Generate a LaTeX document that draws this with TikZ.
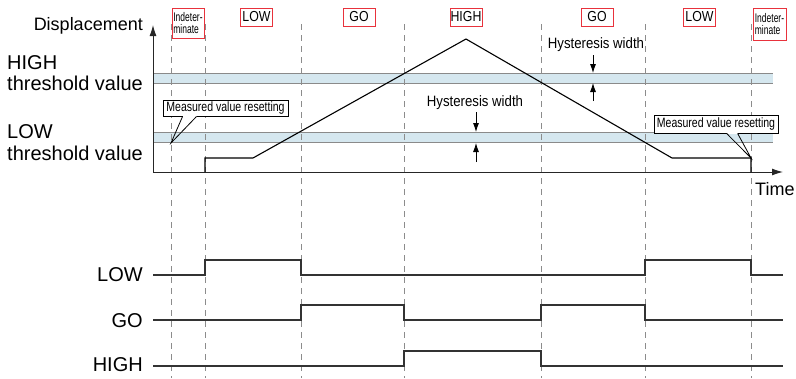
\documentclass[tikz,border=0pt]{standalone}
\usepackage{fontspec}
\setmainfont{Liberation Sans}
\newfontfamily\boxfont[FakeStretch=0.85]{Liberation Sans}
\newfontfamily\callfont[FakeStretch=0.78]{Liberation Sans}
\newfontfamily\indfont[FakeStretch=0.68]{Liberation Sans}
\newfontfamily\hysfont[FakeStretch=0.88]{Liberation Sans}
\usetikzlibrary{arrows.meta,calc}
\definecolor{bandc}{HTML}{D5E7EF}
\definecolor{bandedge}{HTML}{8A8A8A}
\definecolor{dashc}{HTML}{8C8C8C}
\definecolor{redbox}{HTML}{E8323C}
\definecolor{sigc}{HTML}{333333}
\tikzset{
  statebox/.style={draw=redbox, line width=1pt, fill=white, inner sep=0pt,
    minimum width=32pt, minimum height=18pt, font=\boxfont\fontsize{14.5}{14.5}\selectfont},
  indbox/.style={statebox, minimum height=30pt, align=left,
    font=\indfont\fontsize{12.5}{12.5}\selectfont},
  callout/.style={draw=black, line width=0.8pt, fill=white, inner sep=0pt,
    font=\callfont\fontsize{13.5}{14}\selectfont},
  guide/.style={draw=dashc, dash pattern=on 6pt off 5pt, line width=0.8pt},
  bandline/.style={draw=bandedge, line width=1pt},
  curve/.style={draw=black, line width=1.1pt},
  signal/.style={draw=sigc, line width=1.5pt},
  axis/.style={draw=black!85, line width=1pt},
  hysarrow/.style={-{Latex[length=9pt,width=6pt]}, line width=0.8pt},
  biglabel/.style={font=\fontsize{20}{22}\selectfont, inner sep=0pt},
  midlabel/.style={font=\fontsize{18}{20}\selectfont, inner sep=0pt},
  hyslabel/.style={font=\hysfont\fontsize{15}{16}\selectfont, inner sep=0pt}
}
\begin{document}
\begin{tikzpicture}[x=1pt,y=-1pt]
\useasboundingbox (0,0) rectangle (796,378);

% threshold bands
\fill[bandc] (153,73) rectangle (773,83);
\draw[bandline] (153,73) -- (773,73) (153,83) -- (773,83);
\fill[bandc] (153,132) rectangle (773,142);
\draw[bandline] (153,132) -- (773,132) (153,142) -- (773,142);

% guide lines
\foreach \gx in {171,205,301,404,541,645,751}
  \draw[guide] (\gx,24) -- (\gx,378);

% axes
\coordinate (org) at (153,172);
\coordinate (ytop) at (153,25);
\coordinate (xend) at (783,172);
\draw[axis,-{Latex[length=11pt,width=7pt]}] (org) -- (ytop);
\draw[axis,-{Latex[length=11pt,width=7pt]}] (org) -- (xend);

% displacement curve
\draw[curve] (205,172) -- (205,158) -- (253,158) -- (466,39) -- (672,158) -- (751,158) -- (751,172);

% state boxes
\node[indbox] (i1) at (188,23) {Indeter-\\minate};
\node[statebox] (s1) at (256.5,17) {LOW};
\node[statebox] (s2) at (359,17) {GO};
\node[statebox] (s3) at (466,17) {HIGH};
\node[statebox] (s4) at (597,17) {GO};
\node[statebox] (s5) at (699.5,17) {LOW};
\node[indbox, minimum height=32pt, minimum width=33pt] (i2) at (769.5,24) {Indeter-\\minate};

% labels
\node[midlabel, anchor=base east] (disp) at (143,30) {Displacement};
\node[biglabel, anchor=base west] (hh) at (7,69) {HIGH};
\node[biglabel, anchor=base west] (ht) at (7,90) {threshold value};
\node[biglabel, anchor=base west] (lh) at (7,138) {LOW};
\node[biglabel, anchor=base west] (lt) at (7,160) {threshold value};
\node[midlabel, anchor=base west] (time) at (755,195) {Time};

% callouts
\node[callout, minimum width=125pt, minimum height=16pt] (cb1) at (225.5,108) {Measured value resetting};
\coordinate (tip1) at (171,143);
\coordinate (w1a) at ($(cb1.south west)+(20,0)$);
\coordinate (w1b) at ($(cb1.south west)+(34,0)$);
\draw[white, line width=1.4pt] (w1a) -- (w1b);
\draw[line width=0.8pt] (w1a) -- (tip1) -- (w1b);

\node[callout, minimum width=124pt, minimum height=18pt] (cb2) at (716,124) {Measured value resetting};
\coordinate (tip2) at (751,158);
\coordinate (w2a) at ($(cb2.south west)+(73,0)$);
\coordinate (w2b) at ($(cb2.south west)+(84,0)$);
\draw[white, line width=1.4pt] (w2a) -- (w2b);
\draw[line width=0.8pt] (w2a) -- (tip2) -- (w2b);

% hysteresis widths
\node[hyslabel] (hy1) at (475,103) {Hysteresis width};
\coordinate (a1s) at (476,112); \coordinate (a1e) at (476,132);
\coordinate (b1s) at (476,162); \coordinate (b1e) at (476,143);
\draw[hysarrow] (a1s) -- (a1e);
\draw[hysarrow] (b1s) -- (b1e);
\node[hyslabel] (hy2) at (596,45) {Hysteresis width};
\coordinate (a2s) at (593,55); \coordinate (a2e) at (593,73);
\coordinate (b2s) at (593,101); \coordinate (b2e) at (593,83);
\draw[hysarrow] (a2s) -- (a2e);
\draw[hysarrow] (b2s) -- (b2e);

% output signals
\node[biglabel, anchor=east] (lowlab) at (143,274.5) {LOW};
\node[biglabel, anchor=east] (golab) at (143,321) {GO};
\node[biglabel, anchor=east] (highlab) at (143,364.5) {HIGH};
\draw[signal] (153,275) -| (205,260) -| (301,275) -| (645,260) -| (751,275) -- (783,275);
\draw[signal] (153,320) -| (301,305) -| (404,320) -| (541,305) -| (645,320) -- (783,320);
\draw[signal] (153,366) -| (404,351) -| (541,366) -- (783,366);
\end{tikzpicture}
\end{document}
